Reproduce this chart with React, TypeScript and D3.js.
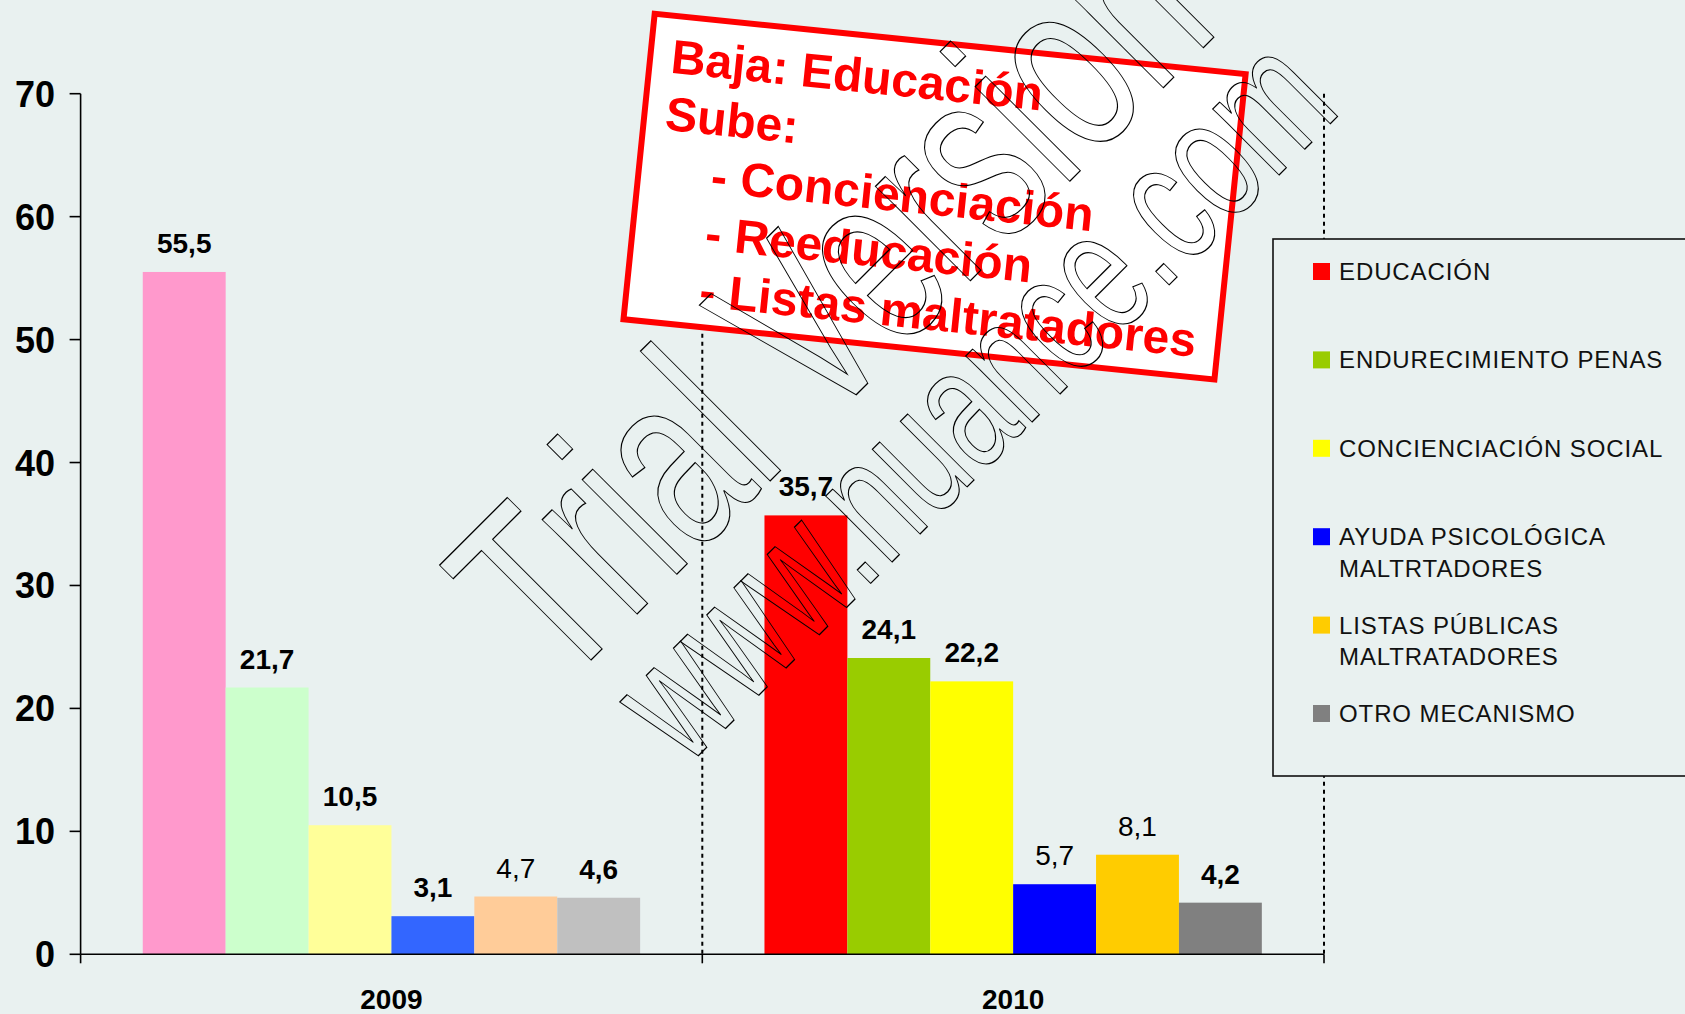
import React from 'react';
import * as d3 from 'd3';

// ---------- data ----------
const categories = ['2009', '2010'];
const seriesNames = [
  'EDUCACIÓN',
  'ENDURECIMIENTO PENAS',
  'CONCIENCIACIÓN SOCIAL',
  'AYUDA PSICOLÓGICA MALTRTADORES',
  'LISTAS PÚBLICAS MALTRATADORES',
  'OTRO MECANISMO',
];
const legendLines = [
  ['EDUCACIÓN'],
  ['ENDURECIMIENTO PENAS'],
  ['CONCIENCIACIÓN SOCIAL'],
  ['AYUDA PSICOLÓGICA', 'MALTRTADORES'],
  ['LISTAS PÚBLICAS', 'MALTRATADORES'],
  ['OTRO MECANISMO'],
];
const values2009 = [55.5, 21.7, 10.5, 3.1, 4.7, 4.6];
const values2010 = [35.7, 24.1, 22.2, 5.7, 8.1, 4.2];
const yTicks = [0, 10, 20, 30, 40, 50, 60, 70];
const annotationLines = [
  'Baja: Educación',
  'Sube:',
  '- Concienciación',
  '- Reeducación',
  '- Listas maltratadores',
];
const watermarkLines = ['Trial Version', 'www.nuance.com'];

// ---------- styles ----------
const colors2009 = ['#FF99CC', '#CCFFCC', '#FFFF99', '#3366FF', '#FFCC99', '#C0C0C0'];
const colors2010 = ['#FF0000', '#99CC00', '#FFFF00', '#0000FF', '#FFCC00', '#808080'];
const legendColors = colors2010;
// labels drawn in regular (not bold) weight: [categoryIndex, seriesIndex]
const plainLabels = ['0-4', '1-3', '1-4'];

const W = 1685;
const H = 1014;
const BG = '#E9F1F0';
const FONT = '"Liberation Sans", Arial, Helvetica, sans-serif';

const plot = { left: 80.6, right: 1324, top: 93.7, bottom: 954.3 };

export default function App() {
  const valuesByCat = [values2009, values2010];
  const colorsByCat = [colors2009, colors2010];

  const x0 = d3.scaleBand<string>().domain(categories).range([plot.left, plot.right]).padding(0);
  const bw = x0.bandwidth();
  const x1 = d3
    .scaleBand<string>()
    .domain(seriesNames)
    .range([bw * 0.1, bw * 0.9])
    .padding(0);
  const y = d3.scaleLinear().domain([0, 70]).range([plot.bottom, plot.top]);

  const fmt = (v: number) => d3.format('.1f')(v).replace('.', ',');

  const boundaries = [plot.left, ...categories.map((c) => (x0(c) as number) + bw)];

  // annotation box geometry
  const boxTL = [652, 10.5];
  const boxAngle = 5.83;
  const boxW = 600;
  const boxH = 313;
  const annX = [24, 24, 76, 76, 76];
  const annY0 = 60;
  const annDy = 57.4;

  return (
    <svg
      width={W}
      height={H}
      style={{ position: 'absolute', left: 0, top: 0, display: 'block' }}
      fontFamily={FONT}
    >
      <rect x={0} y={0} width={W} height={H} fill={BG} />

      {/* dotted category separators */}
      {boundaries.slice(1).map((bx, i) => (
        <line
          key={'grid' + i}
          x1={bx}
          x2={bx}
          y1={plot.top}
          y2={plot.bottom}
          stroke="#000"
          strokeWidth={2}
          strokeDasharray="4,4"
        />
      ))}

      {/* bars */}
      {categories.map((c, ci) =>
        valuesByCat[ci].map((v, si) => {
          const bx = (x0(c) as number) + (x1(seriesNames[si]) as number);
          return (
            <rect
              key={c + si}
              x={bx}
              y={y(v)}
              width={x1.bandwidth()}
              height={y(0) - y(v)}
              fill={colorsByCat[ci][si]}
            />
          );
        })
      )}

      {/* value labels */}
      {categories.map((c, ci) =>
        valuesByCat[ci].map((v, si) => {
          const bx = (x0(c) as number) + (x1(seriesNames[si]) as number) + x1.bandwidth() / 2;
          const plain = plainLabels.includes(ci + '-' + si);
          return (
            <text
              key={'l' + c + si}
              x={bx}
              y={y(v) - 19}
              textAnchor="middle"
              fontSize={28}
              fontWeight={plain ? 400 : 700}
              fill="#000"
            >
              {fmt(v)}
            </text>
          );
        })
      )}

      {/* y axis */}
      <line x1={plot.left} x2={plot.left} y1={plot.top} y2={plot.bottom} stroke="#000" strokeWidth={1.6} />
      {yTicks.map((t) => (
        <g key={'yt' + t}>
          <line x1={plot.left - 11} x2={plot.left} y1={y(t)} y2={y(t)} stroke="#000" strokeWidth={1.6} />
          <text x={55} y={y(t) + 13} textAnchor="end" fontSize={36} fontWeight={700} fill="#000">
            {t}
          </text>
        </g>
      ))}

      {/* x axis */}
      <line x1={plot.left} x2={plot.right} y1={plot.bottom} y2={plot.bottom} stroke="#000" strokeWidth={1.6} />
      {boundaries.map((bx, i) => (
        <line key={'xt' + i} x1={bx} x2={bx} y1={plot.bottom} y2={plot.bottom + 9} stroke="#000" strokeWidth={1.6} />
      ))}
      {categories.map((c) => (
        <text
          key={'cat' + c}
          x={(x0(c) as number) + bw / 2}
          y={1009}
          textAnchor="middle"
          fontSize={28}
          fontWeight={700}
          fill="#000"
        >
          {c}
        </text>
      ))}

      {/* legend */}
      <rect x={1273} y={239} width={500} height={537} fill={BG} stroke="#111" strokeWidth={1.6} />
      {legendLines.map((lines, i) => {
        const base = 280 + i * 88.4;
        return (
          <g key={'leg' + i}>
            <rect x={1313} y={base - 17} width={17} height={17} fill={legendColors[i]} />
            {lines.map((ln, j) => (
              <text
                key={j}
                x={1339}
                y={base + j * 31.4}
                fontSize={24}
                letterSpacing={0.9}
                fill="#111"
              >
                {ln}
              </text>
            ))}
          </g>
        );
      })}

      {/* annotation box */}
      <g transform={`translate(${boxTL[0]},${boxTL[1]}) rotate(${boxAngle})`}>
        <rect x={3} y={3} width={boxW - 6} height={boxH - 6} fill="#FFFFFF" stroke="#FF0000" strokeWidth={6} />
        {annotationLines.map((ln, i) => (
          <text
            key={'ann' + i}
            x={annX[i]}
            y={annY0 + i * annDy}
            fontSize={48}
            fontWeight={700}
            fill="#FF0000"
          >
            {ln}
          </text>
        ))}
      </g>

      {/* watermark */}
      <g fill="none" stroke="#000" strokeWidth={1.1}>
        <text
          transform="translate(560,691) rotate(-45) scale(0.67,1)"
          fontSize={253}
          vectorEffect="non-scaling-stroke"
          style={{ vectorEffect: 'non-scaling-stroke' } as any}
        >
          {watermarkLines[0]}
        </text>
        <text
          transform="translate(686,768) rotate(-45) scale(0.67,1)"
          fontSize={177}
          style={{ vectorEffect: 'non-scaling-stroke' } as any}
        >
          {watermarkLines[1]}
        </text>
      </g>
    </svg>
  );
}
